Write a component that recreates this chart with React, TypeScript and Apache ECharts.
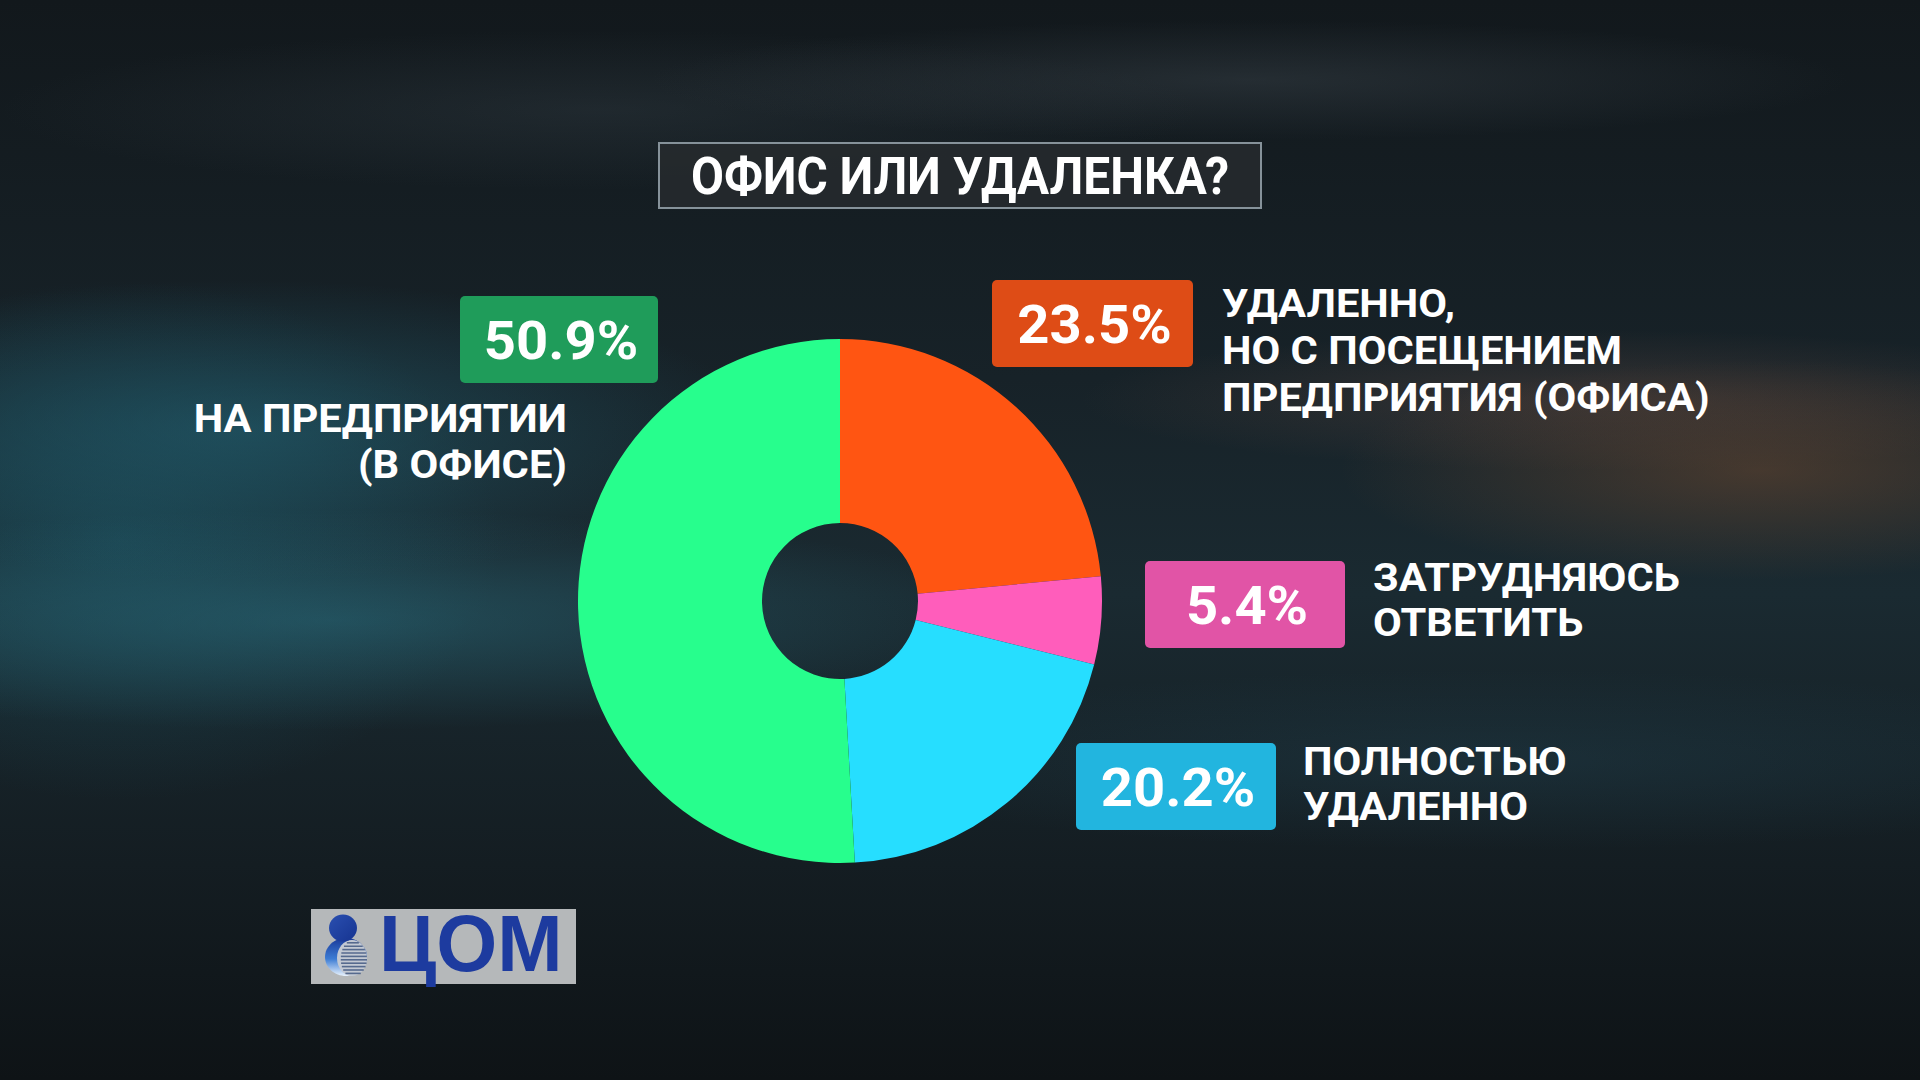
import React, { useEffect, useRef } from "react";
import * as echarts from "echarts";

// ---- data ----
const title = "ОФИС ИЛИ УДАЛЕНКА?";
const categories = [
  "УДАЛЕННО,\nНО С ПОСЕЩЕНИЕМ\nПРЕДПРИЯТИЯ (ОФИСА)",
  "ЗАТРУДНЯЮСЬ\nОТВЕТИТЬ",
  "ПОЛНОСТЬЮ\nУДАЛЕННО",
  "НА ПРЕДПРИЯТИИ\n(В ОФИСЕ)",
];
const values = [23.5, 5.4, 20.2, 50.9];
const logoText = "ЦОМ";

// ---- styles ----
const sliceColors = ["#FF5512", "#FF5DBB", "#26DEFF", "#27FE8D"];
const boxColors = ["#DE4C16", "#E154A6", "#22B5DF", "#1F9C5A"];

// ---- layout (px) ----
const labelLayout = [
  { bx: 992, by: 280, bw: 201, bh: 87, tx: 1222, ty: 304, gap: 47, align: "left" },
  { bx: 1145, by: 561, bw: 200, bh: 87, tx: 1373, ty: 578, gap: 45, align: "left" },
  { bx: 1076, by: 743, bw: 200, bh: 87, tx: 1303, ty: 762, gap: 45, align: "left" },
  { bx: 460, by: 296, bw: 198, bh: 87, tx: 567, ty: 419, gap: 46, align: "right" },
];

const FONT = "Roboto";

export default function App() {
  const ref = useRef<HTMLDivElement>(null);

  useEffect(() => {
    if (!ref.current) return;
    const chart = echarts.init(ref.current, undefined, { renderer: "svg" });

    const graphics: any[] = [];

    // title box
    graphics.push({
      type: "rect",
      shape: { x: 659, y: 143, width: 602, height: 65 },
      style: { fill: "rgba(38,42,46,0.88)", stroke: "#86929a", lineWidth: 2 },
    });
    graphics.push({
      type: "text",
      x: 960,
      y: 176,
      scaleX: 0.92,
      style: {
        text: title,
        fill: "#ffffff",
        font: `bold 52px ${FONT}`,
        align: "center",
        verticalAlign: "middle",
      },
    });

    // label boxes and category texts
    values.forEach((v, i) => {
      const L = labelLayout[i];
      graphics.push({
        type: "rect",
        shape: { x: L.bx, y: L.by, width: L.bw, height: L.bh, r: 5 },
        style: { fill: boxColors[i] },
      });
      graphics.push({
        type: "text",
        x: L.bx + L.bw / 2 + 2,
        y: L.by + L.bh / 2 + 1,
        scaleX: 1.04,
        style: {
          text: v.toFixed(1) + "%",
          fill: "#ffffff",
          font: `bold 54px ${FONT}`,
          align: "center",
          verticalAlign: "middle",
        },
      });
      categories[i].split("\n").forEach((line, j) => {
        graphics.push({
          type: "text",
          x: L.tx,
          y: L.ty + j * L.gap,
          scaleX: 1.07,
          style: {
            text: line,
            fill: "#ffffff",
            font: `bold 39px ${FONT}`,
            align: L.align,
            verticalAlign: "middle",
          },
        });
      });
    });

    // logo
    graphics.push({
      type: "rect",
      shape: { x: 311, y: 909, width: 265, height: 75 },
      style: { fill: "#b5b8ba" },
    });
    graphics.push({
      type: "ellipse",
      shape: { cx: 346, cy: 957, rx: 21, ry: 19 },
      style: {
        fill: new echarts.graphic.LinearGradient(0, 0, 0, 1, [
          { offset: 0, color: "#1a3a9a" },
          { offset: 0.55, color: "#3c7cd4" },
          { offset: 1, color: "#e8f2fd" },
        ]),
      },
    });
    graphics.push({
      type: "ellipse",
      shape: { cx: 352, cy: 958, rx: 15, ry: 18 },
      style: { fill: "#c3c9d3" },
    });
    for (let k = 0; k < 10; k++) {
      const yy = 942 + k * 3.4;
      const dy = yy - 958;
      const half = 15 * Math.sqrt(Math.max(0, 1 - (dy * dy) / (18 * 18)));
      graphics.push({
        type: "rect",
        shape: { x: 352 - half * 0.75, y: yy, width: half * 1.75, height: 1.6 },
        style: { fill: "#4a5f86", opacity: 0.9 },
      });
    }
    graphics.push({
      type: "ellipse",
      shape: { cx: 343, cy: 928, rx: 14, ry: 13.5 },
      style: {
        fill: new echarts.graphic.LinearGradient(0, 0, 1, 1, [
          { offset: 0, color: "#2a4fb0" },
          { offset: 1, color: "#163491" },
        ]),
      },
    });
    graphics.push({
      type: "text",
      x: 379,
      y: 943,
      scaleX: 0.98,
      style: {
        text: logoText,
        fill: "#1d3b9f",
        font: `bold 80px "Liberation Sans"`,
        align: "left",
        verticalAlign: "middle",
      },
    });

    chart.setOption({
      animation: false,
      backgroundColor: "transparent",
      series: [
        {
          type: "pie",
          center: [840, 601],
          radius: [78, 262],
          startAngle: 90,
          clockwise: true,
          silent: true,
          label: { show: false },
          labelLine: { show: false },
          itemStyle: { borderWidth: 0 },
          emphasis: { disabled: true },
          data: values.map((v, i) => ({
            name: categories[i].replace(/\n/g, " "),
            value: v,
            itemStyle: { color: sliceColors[i] },
          })),
        },
      ],
      graphic: graphics,
    });

    return () => chart.dispose();
  }, []);

  const bg = [
    "radial-gradient(ellipse 520px 150px at 240px 430px, rgba(35,100,118,0.55), rgba(0,0,0,0))",
    "radial-gradient(ellipse 700px 110px at 330px 620px, rgba(45,120,138,0.45), rgba(0,0,0,0))",
    "radial-gradient(ellipse 380px 260px at 120px 540px, rgba(28,85,100,0.55), rgba(0,0,0,0))",
    "radial-gradient(ellipse 420px 110px at 1760px 470px, rgba(125,80,50,0.45), rgba(0,0,0,0))",
    "radial-gradient(ellipse 520px 70px at 1600px 400px, rgba(110,80,70,0.35), rgba(0,0,0,0))",
    "radial-gradient(ellipse 600px 60px at 1250px 80px, rgba(70,80,88,0.35), rgba(0,0,0,0))",
    "radial-gradient(ellipse 600px 80px at 600px 110px, rgba(60,72,80,0.3), rgba(0,0,0,0))",
    "radial-gradient(ellipse 700px 90px at 1500px 760px, rgba(35,70,85,0.35), rgba(0,0,0,0))",
    "linear-gradient(180deg, #12181c 0%, #172228 35%, #1a2a31 55%, #141d22 80%, #0e1316 100%)",
  ].join(",");

  return (
    <div
      style={{
        position: "fixed",
        left: 0,
        top: 0,
        width: 1920,
        height: 1080,
        background: bg,
      }}
    >
      <div ref={ref} style={{ width: 1920, height: 1080 }} />
    </div>
  );
}
